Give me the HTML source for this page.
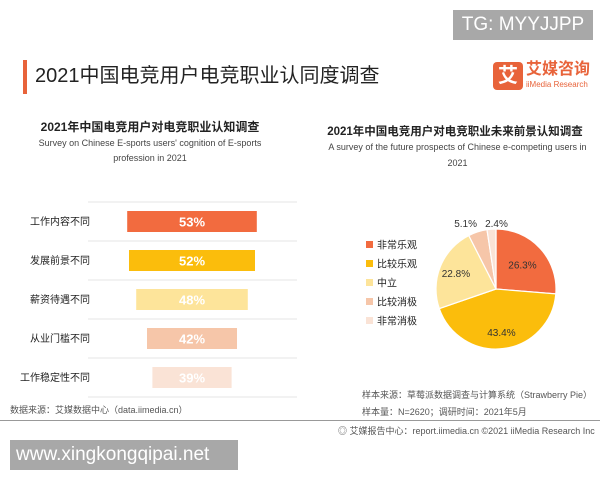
<!DOCTYPE html>
<html><head><meta charset="utf-8">
<style>
body{margin:0;width:600px;height:480px;background:#fff;position:relative;overflow:hidden;font-family:"Liberation Sans","Noto Sans CJK SC",sans-serif;color:#222}
.a{position:absolute}
</style></head><body>
<div class="a" style="left:453px;top:10px;width:140px;height:30px;background:#a8a8a8;color:#fff;font-size:19px;line-height:30px;text-align:center">TG: MYYJJPP</div>
<div class="a" style="left:23px;top:60px;width:4px;height:34px;background:#e8633a"></div>
<div class="a" style="left:35px;top:62px;font-size:20px;line-height:28px;color:#222">2021中国电竞用户电竞职业认同度调查</div>
<div class="a" style="left:493px;top:62px;width:30px;height:28px;background:#e8633a;border-radius:4px;color:#fff;font-size:20px;text-align:center;line-height:28px;font-weight:bold">艾</div>
<div class="a" style="left:526px;top:61px;font-size:16px;color:#e8633a;font-weight:bold;line-height:18px">艾媒咨询</div>
<div class="a" style="left:526px;top:80px;font-size:8px;color:#e8633a;line-height:10px">iiMedia Research</div>

<div class="a" style="left:0;width:300px;top:118px;text-align:center;font-size:12px;font-weight:bold">2021年中国电竞用户对电竞职业认知调查</div>
<div class="a" style="left:35px;width:230px;top:136px;text-align:center;font-size:9px;line-height:15px;color:#444">Survey on Chinese E-sports users' cognition of E-sports profession in 2021</div>

<div class="a" style="left:310px;width:290px;top:123px;text-align:center;font-size:11.5px;font-weight:bold">2021年中国电竞用户对电竞职业未来前景认知调查</div>
<div class="a" style="left:325px;width:265px;top:139px;text-align:center;font-size:9px;line-height:16px;color:#444">A survey of the future prospects of Chinese e-competing users in 2021</div>

<svg class="a" style="left:0;top:0" width="600" height="480" id="chart"></svg>

<div class="a" style="left:10px;top:403px;font-size:9px;color:#555">数据来源：艾媒数据中心（data.iimedia.cn）</div>
<div class="a" style="left:362px;top:388px;font-size:9px;color:#555">样本来源：草莓派数据调查与计算系统（Strawberry Pie）</div>
<div class="a" style="left:362px;top:405px;font-size:9px;color:#555">样本量：N=2620；调研时间：2021年5月</div>
<div class="a" style="left:0;top:420px;width:600px;height:1px;background:#999"></div>
<div class="a" style="left:338px;top:424px;font-size:9px;color:#555">◎ 艾媒报告中心：report.iimedia.cn ©2021 iiMedia Research Inc</div>
<div class="a" style="left:10px;top:440px;width:228px;height:30px;background:#a8a8a8;color:#fff;font-size:19px;line-height:30px;padding-left:6px;box-sizing:border-box">www.xingkongqipai.net</div>

<script>
const barCats=["工作内容不同","发展前景不同","薪资待遇不同","从业门槛不同","工作稳定性不同"];
const barVals=[53,52,48,42,39];
const barColors=["#f26b3f","#fbbd0c","#fde49a","#f6c6a9","#fae3d6"];
const pieCats=["非常乐观","比较乐观","中立","比较消极","非常消极"];
const pieVals=[26.3,43.4,22.8,5.1,2.4];
const pieColors=["#f26b3f","#fbbd0c","#fde49a","#f6c6a9","#fae3d6"];
const NS="http://www.w3.org/2000/svg";
const svg=document.getElementById('chart');
function mk(t,a){const e=document.createElementNS(NS,t);for(const k in a)e.setAttribute(k,a[k]);svg.appendChild(e);return e;}
const cx0=192,rowTop=202,rowH=39;
function bw(v){return (v-17)*3.6;}
for(let i=0;i<=barCats.length;i++){
  const l=mk('line',{x1:88,x2:297,y1:rowTop+i*rowH,y2:rowTop+i*rowH,stroke:'#e6e6e6','stroke-width':1});
  
}
barVals.forEach((v,i)=>{
  const y=rowTop+i*rowH+9,w=bw(v);
  const r=mk('rect',{x:cx0-w/2,y:y,width:w,height:21,fill:barColors[i]});
  
  const t=mk('text',{x:cx0,y:y+15.5,'text-anchor':'middle','font-size':13,'font-weight':'bold',fill:'#fff'});
  t.textContent=v+'%';
  const c=mk('text',{x:90,y:y+14,'text-anchor':'end','font-size':10,fill:'#222'});
  c.textContent=barCats[i];
});
const pcx=496,pcy=289,R=60,tot=pieVals.reduce((a,b)=>a+b,0);
let ang=-Math.PI/2;
const labPos=[[0.6,0],[0.72,0],[0.72,0],[1.22,0],[1.22,0]];
pieVals.forEach((v,i)=>{
  const a2=ang+v/tot*2*Math.PI;
  const x1=pcx+R*Math.cos(ang),y1=pcy+R*Math.sin(ang),x2=pcx+R*Math.cos(a2),y2=pcy+R*Math.sin(a2);
  const p=mk('path',{d:`M${pcx},${pcy}L${x1},${y1}A${R},${R} 0 ${a2-ang>Math.PI?1:0} 1 ${x2},${y2}Z`,fill:pieColors[i],stroke:'#fff','stroke-width':1.2});
  
  const m=(ang+a2)/2;let rr=labPos[i][0]*R;
  let lx=pcx+rr*Math.cos(m),ly=pcy+rr*Math.sin(m)+4;
  if(i===3){lx-=8;ly=227;} if(i===4){lx+=6;ly=227;}
  const t=mk('text',{x:lx,y:ly,'text-anchor':'middle','font-size':10,fill:'#333'});
  t.textContent=v.toFixed(1)+'%';
  ang=a2;
});
pieCats.forEach((c,i)=>{
  const y=245+i*19;
  const s=mk('rect',{x:366,y:y-4,width:7,height:7,fill:pieColors[i]});
  
  const t=mk('text',{x:377,y:y+3.5,'font-size':10,fill:'#222'});
  t.textContent=c;
});
</script>
</body></html>
